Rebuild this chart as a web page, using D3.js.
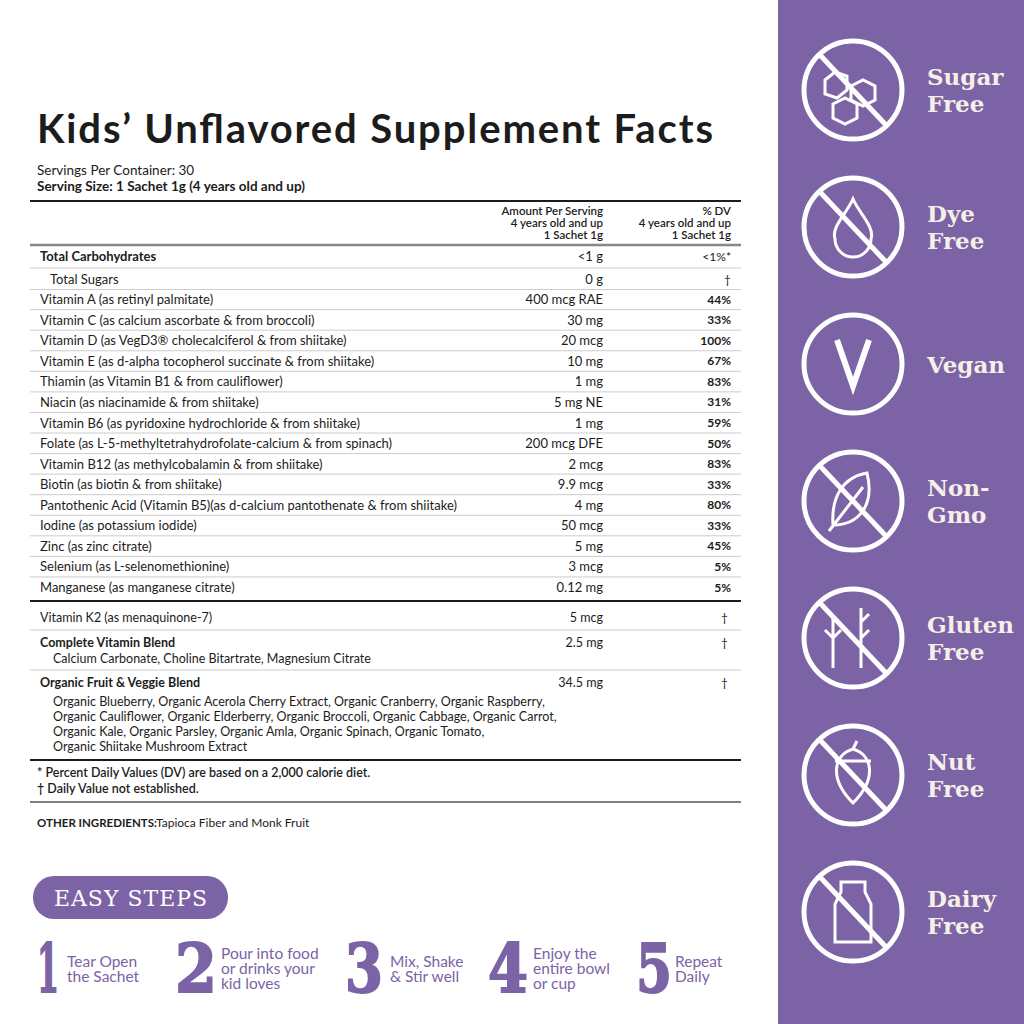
<!DOCTYPE html>
<html><head><meta charset="utf-8">
<script src="https://cdn.jsdelivr.net/npm/d3@7"></script>
<style>body{margin:0;background:#fff}</style>
</head><body>
<script>
// nutrient rows
var names = ["Total Carbohydrates","Total Sugars","Vitamin A (as retinyl palmitate)","Vitamin C (as calcium ascorbate & from broccoli)",
  "Vitamin D (as VegD3® cholecalciferol & from shiitake)","Vitamin E (as d-alpha tocopherol succinate & from shiitake)",
  "Thiamin (as Vitamin B1 & from cauliflower)","Niacin (as niacinamide & from shiitake)","Vitamin B6 (as pyridoxine hydrochloride & from shiitake)",
  "Folate (as L-5-methyltetrahydrofolate-calcium & from spinach)","Vitamin B12 (as methylcobalamin & from shiitake)","Biotin (as biotin & from shiitake)",
  "Pantothenic Acid (Vitamin B5)(as d-calcium pantothenate & from shiitake)","Iodine (as potassium iodide)","Zinc (as zinc citrate)",
  "Selenium (as L-selenomethionine)","Manganese (as manganese citrate)"];
var amounts = ["<1 g","0 g","400 mcg RAE","30 mg","20 mcg","10 mg","1 mg","5 mg NE","1 mg","200 mcg DFE","2 mcg","9.9 mcg","4 mg","50 mcg","5 mg","3 mcg","0.12 mg"];
var dvs = ["<1%*","†","44%","33%","100%","67%","83%","31%","59%","50%","83%","33%","80%","33%","45%","5%","5%"];
var badges = [["Sugar","Free"],["Dye","Free"],["Vegan"],["Non-","Gmo"],["Gluten","Free"],["Nut","Free"],["Dairy","Free"]];
var steps = [["Tear Open","the Sachet"],["Pour into food","or drinks your","kid loves"],["Mix, Shake","& Stir well"],["Enjoy the","entire bowl","or cup"],["Repeat","Daily"]];
var fruitLines = ["Organic Blueberry, Organic Acerola Cherry Extract, Organic Cranberry, Organic Raspberry,",
  "Organic Cauliflower, Organic Elderberry, Organic Broccoli, Organic Cabbage, Organic Carrot,",
  "Organic Kale, Organic Parsley, Organic Amla, Organic Spinach, Organic Tomato,",
  "Organic Shiitake Mushroom Extract"];

var purple = "#7b63a6", ink = "#1c1c1c", sans = "Lato, 'Open Sans', sans-serif", serif = "'DejaVu Serif', 'Liberation Serif', serif";
var svg = d3.select("body").append("svg").attr("width",1024).attr("height",1024);
svg.append("rect").attr("x",778).attr("y",0).attr("width",246).attr("height",1024).attr("fill",purple);

function txt(x,y,s,o){o=o||{};return svg.append("text").attr("x",x).attr("y",y).text(s)
  .attr("font-family",o.f||sans).attr("font-size",o.s||12).attr("font-weight",o.w||400)
  .attr("fill",o.c||ink).attr("text-anchor",o.a||"start").attr("dominant-baseline","central");}
function hline(y,w,c){svg.append("line").attr("x1",30).attr("x2",741).attr("y1",y).attr("y2",y).attr("stroke",c||"#ccc").attr("stroke-width",w||1);}

txt(37,128,"Kids’ Unflavored Supplement Facts",{s:40,w:700}).attr("textLength",676);
txt(37,170,"Servings Per Container: 30",{s:13.5});
txt(37,186,"Serving Size: 1 Sachet 1g (4 years old and up)",{s:13.5,w:700});
hline(201,2,ink);
[["Amount Per Serving",210],["4 years old and up",222],["1 Sachet 1g",234]].forEach(function(d){txt(603,d[1],d[0],{s:11.5,a:"end",w:600});});
[["% DV",210],["4 years old and up",222],["1 Sachet 1g",234]].forEach(function(d){txt(731,d[1],d[0],{s:11.5,a:"end",w:600});});
hline(245,2.5,"#888");

var y = d3.scaleLinear().domain([0,names.length-1]).range([256,587]);
names.forEach(function(n,i){
  var yy = i==0 ? 256 : (i==1 ? 279 : y(i)+ (1-i/16)*2 );
  txt(i==1?50:40,yy,n,{s:13,w:i==0?700:400});
  txt(603,yy,amounts[i],{s:13,a:"end"});
  txt(731,yy,dvs[i],{s:12,a:"end",w:i>1?700:400});
  if(i<names.length-1) hline(yy+(i==0?12:10.5));
});
hline(601,2,ink);
txt(40,617,"Vitamin K2 (as menaquinone-7)",{s:12.5}); txt(603,617,"5 mcg",{s:12.5,a:"end"}); txt(728,617,"†",{s:12,a:"end"});
hline(630);
txt(40,642,"Complete Vitamin Blend",{s:12.5,w:700}); txt(603,642,"2.5 mg",{s:12.5,a:"end"}); txt(728,642,"†",{s:12,a:"end"});
txt(53,658,"Calcium Carbonate, Choline Bitartrate, Magnesium Citrate",{s:12.5});
hline(670);
txt(40,682,"Organic Fruit & Veggie Blend",{s:12.5,w:700}); txt(603,682,"34.5 mg",{s:12.5,a:"end"}); txt(728,682,"†",{s:12,a:"end"});
fruitLines.forEach(function(l,i){txt(53,701+i*15.3,l,{s:12.5});});
hline(760,2,ink);
txt(37,772,"* Percent Daily Values (DV) are based on a 2,000 calorie diet.",{s:12.5,w:600});
txt(37,788,"† Daily Value not established.",{s:12.5,w:600});
hline(802,1.5,"#555");
txt(37,822,"OTHER INGREDIENTS:",{s:11.5,w:700});
txt(156,822,"Tapioca Fiber and Monk Fruit",{s:12});

// easy steps
svg.append("rect").attr("x",33).attr("y",876).attr("width",195).attr("height",43).attr("rx",21).attr("fill",purple);
txt(131,898,"EASY STEPS",{f:serif,s:22,c:"#fff",a:"middle"}).attr("letter-spacing",1);
var numX=[37,175,345,488,636], textX=[67,221,390,533,675], numW=[22,42,38,40,36];
steps.forEach(function(s,i){
  txt(numX[i],968,String(i+1),{f:"'DejaVu Serif', serif",s:68,w:700,c:purple}).attr("textLength",numW[i])
    .attr("lengthAdjust","spacingAndGlyphs").attr("stroke",purple).attr("stroke-width",2);
  var n=s.length, top=968-(n-1)*7.5;
  s.forEach(function(l,j){txt(textX[i],top+j*15,l,{s:15.5,c:purple});});
});

// badges
var by = d3.scaleLinear().domain([0,6]).range([90,912]);
badges.forEach(function(b,i){
  var cy=by(i), g=svg.append("g").attr("transform","translate(853,"+cy+")").attr("fill","none").attr("stroke","#fff").attr("stroke-width",5);
  g.append("circle").attr("r",49);
  if(i==2){ g.append("path").attr("d","M-16,-24 L0,22 L16,-24").attr("stroke-width",6).attr("stroke-linejoin","miter"); }
  else {
    g.append("line").attr("x1",-33).attr("y1",-35).attr("x2",33).attr("y2",35);
    g.append("path").attr("stroke-width",3).attr("d",[
      "M-28,-10 l10,-8 l12,4 l0,14 l-10,8 l-12,-4z M-2,-4 l12,-6 l12,6 l0,14 l-12,6 l-12,-6z M-20,14 l12,-6 l12,6 l0,14 l-12,6 l-12,-6z",
      "M0,-28 C-6,-14 -22,0 -18,12 A18,18 0 0 0 18,12 C22,0 6,-14 0,-28z",
      "",
      "M14,-28 C-10,-24 -22,-4 -20,24 C6,24 22,4 14,-28z M-24,30 L10,-14",
      "M-20,-20 L-20,30 M8,-30 L8,30 M-20,0 l-8,-8 M-20,0 l8,-8 M8,-16 l8,-8 M8,0 l8,-8",
      "M0,-26 C-20,-20 -24,4 0,28 C24,4 20,-20 0,-26z M-18,-14 L18,-14 M0,-26 l4,-8",
      "M-12,-30 L12,-30 L12,-20 L18,-8 L18,30 L-18,30 L-18,-8 L-12,-20z"][i]);
  }
  var n=b.length, top=cy-(n-1)*13.5;
  b.forEach(function(l,j){txt(927,top+j*27,l,{f:serif,s:23,w:700,c:"#f6efe8"});});
});
</script>
</body></html>
